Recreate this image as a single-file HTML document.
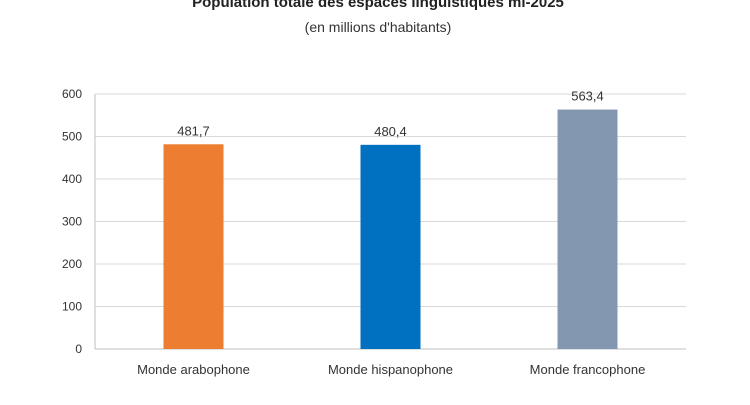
<!DOCTYPE html>
<html><head><meta charset="utf-8"><style>
body{margin:0;background:#fff;width:750px;height:400px;overflow:hidden}
svg{font-family:"Liberation Sans",Arial,sans-serif}
</style></head><body>
<svg width="750" height="400">
<text x="378" y="7" text-anchor="middle" font-size="15" font-weight="bold" fill="#222">Population totale des espaces linguistiques mi-2025</text>
<text x="378" y="32" text-anchor="middle" font-size="14" fill="#333">(en millions d'habitants)</text>
<g id="plot"></g>
</svg>
<script>
const categories=["Monde arabophone","Monde hispanophone","Monde francophone"];
const values=[481.7,480.4,563.4];
const valueLabels=["481,7","480,4","563,4"];
const colors=["#ED7D31","#0070C0","#8497B0"];
const yTicks=[0,100,200,300,400,500,600];
const x0=95,x1=686,yTop=94,yBot=349,yMax=600;
const y=v=>yBot-(v/yMax)*(yBot-yTop);
const band=(x1-x0)/categories.length;
const xc=i=>x0+band*(i+0.5);
const NS="http://www.w3.org/2000/svg";
const g=document.getElementById('plot');
function mk(t,a){const e=document.createElementNS(NS,t);for(const k in a)e.setAttribute(k,a[k]);g.appendChild(e);return e;}
yTicks.forEach(t=>{
 const l=mk('line',{x1:x0,x2:x1,y1:y(t),y2:y(t),stroke:t===0?'#bfbfbf':'#d9d9d9','stroke-width':1});
 
 
 const tx=mk('text',{x:x0-13,y:y(t)+4,'text-anchor':'end','font-size':12,fill:'#333'});
 tx.textContent=t;
 
 
});
const ax=mk('line',{x1:x0,x2:x0,y1:yTop,y2:yBot,stroke:'#bfbfbf'});


categories.forEach((c,i)=>{
 const w=60;
 const r=mk('rect',{x:xc(i)-w/2,y:y(values[i]),width:w,height:yBot-y(values[i]),fill:colors[i]});
 
 
 const v=mk('text',{x:xc(i),y:y(values[i])-9,'text-anchor':'middle','font-size':13,fill:'#333'});
 v.textContent=valueLabels[i];
 
 
 const cl=mk('text',{x:xc(i),y:374,'text-anchor':'middle','font-size':13,fill:'#333'});
 cl.textContent=c;
 
 
});
</script>
</body></html>
